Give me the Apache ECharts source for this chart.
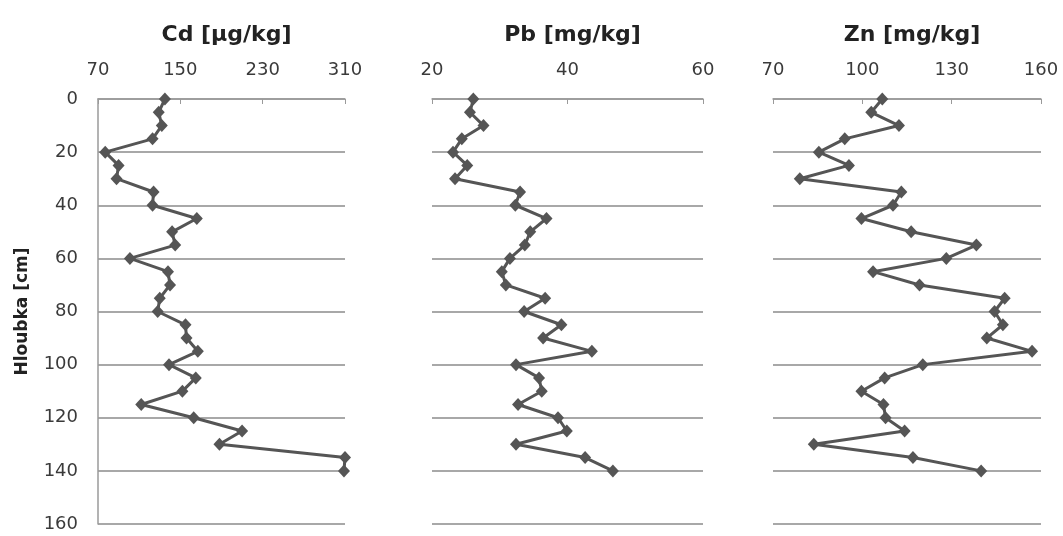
<!DOCTYPE html>
<html>
<head>
<meta charset="utf-8">
<script src="https://cdn.jsdelivr.net/npm/echarts@6/dist/echarts.min.js"></script>
<style>
  html, body { margin: 0; padding: 0; background: #fff; }
  #chart { width: 1063px; height: 536px; }
</style>
</head>
<body>
<div id="chart"></div>
<script>
// hloubka odberu [cm]
var depths = [0, 5, 10, 15, 20, 25, 30, 35, 40, 45, 50, 55, 60, 65, 70,
              75, 80, 85, 90, 95, 100, 105, 110, 115, 120, 125, 130, 135, 140];
var depthTicks = [0, 20, 40, 60, 80, 100, 120, 140, 160];

var cdValues = [135, 129, 132, 123, 77, 90, 88, 124, 123, 166, 142, 145, 101, 138, 140,
                130, 128, 155, 156, 167, 139, 165, 152, 112, 163, 210, 188, 310, 309];
var pbValues = [26.1, 25.6, 27.6, 24.4, 23.1, 25.2, 23.4, 33.0, 32.3, 36.9, 34.5, 33.7, 31.5, 30.3, 30.9,
                36.7, 33.6, 39.1, 36.4, 43.6, 32.4, 35.8, 36.2, 32.7, 38.6, 39.9, 32.4, 42.6, 46.7];
var znValues = [106.7, 103.0, 112.3, 94.1, 85.4, 95.5, 79.0, 113.1, 110.3, 99.7, 116.4, 138.3, 128.2, 103.6, 119.2,
                147.8, 144.4, 147.2, 141.8, 157.0, 120.3, 107.5, 99.7, 107.1, 107.8, 114.2, 83.7, 117.0, 139.9];

var titles = ['Cd [µg/kg]', 'Pb [mg/kg]', 'Zn [mg/kg]'];
var xRanges = [[70, 310, 80], [20, 60, 20], [70, 160, 30]];
var gridBoxes = [[98, 247], [432, 271], [773, 268]];

var chart = echarts.init(document.getElementById('chart'));
var font = 'DejaVu Sans';

function pairs(vals) {
  return vals.map(function (v, i) { return [v, depths[i]]; });
}

var allValues = [cdValues, pbValues, znValues];
var grids = [], xAxes = [], yAxes = [], series = [], titleList = [];

for (var i = 0; i < 3; i++) {
  grids.push({ left: gridBoxes[i][0], width: gridBoxes[i][1], top: 99, height: 425 });
  titleList.push({
    text: titles[i],
    left: gridBoxes[i][0] + gridBoxes[i][1] / 2,
    top: 19,
    textAlign: 'center',
    textStyle: { fontFamily: font, fontSize: 22, fontWeight: 'bold', color: '#222' }
  });
  xAxes.push({
    gridIndex: i,
    type: 'value',
    position: 'top',
    min: xRanges[i][0],
    max: xRanges[i][1],
    interval: xRanges[i][2],
    axisLine: { show: true, lineStyle: { color: '#9a9a9a', width: 1.5 } },
    axisTick: { show: true, inside: true, length: 5, lineStyle: { color: '#9a9a9a' } },
    axisLabel: { fontFamily: font, fontSize: 18, color: '#3a3a3a', margin: 20 },
    splitLine: { show: false }
  });
  yAxes.push({
    gridIndex: i,
    type: 'value',
    inverse: true,
    min: 0,
    max: 160,
    interval: 20,
    name: i === 0 ? 'Hloubka [cm]' : '',
    nameLocation: 'middle',
    nameGap: 67,
    nameTextStyle: { fontFamily: font, fontSize: 17, fontWeight: 'bold', color: '#222' },
    axisLine: { show: i === 0, lineStyle: { color: '#9a9a9a', width: 1.5 } },
    axisTick: { show: false },
    axisLabel: {
      show: i === 0, fontFamily: font, fontSize: 18, color: '#3a3a3a', margin: 20,
      customValues: depthTicks
    },
    splitLine: { show: true, lineStyle: { color: '#a8a8a8', width: 2 } }
  });
  series.push({
    type: 'line',
    xAxisIndex: i,
    yAxisIndex: i,
    data: pairs(allValues[i]),
    symbol: 'diamond',
    symbolSize: [12, 13],
    lineStyle: { color: '#555', width: 3 },
    itemStyle: { color: '#555' },
    animation: false
  });
}

var option = {
  backgroundColor: '#fff',
  title: titleList,
  grid: grids,
  xAxis: xAxes,
  yAxis: yAxes,
  series: series
};
chart.setOption(option);
</script>
</body>
</html>
